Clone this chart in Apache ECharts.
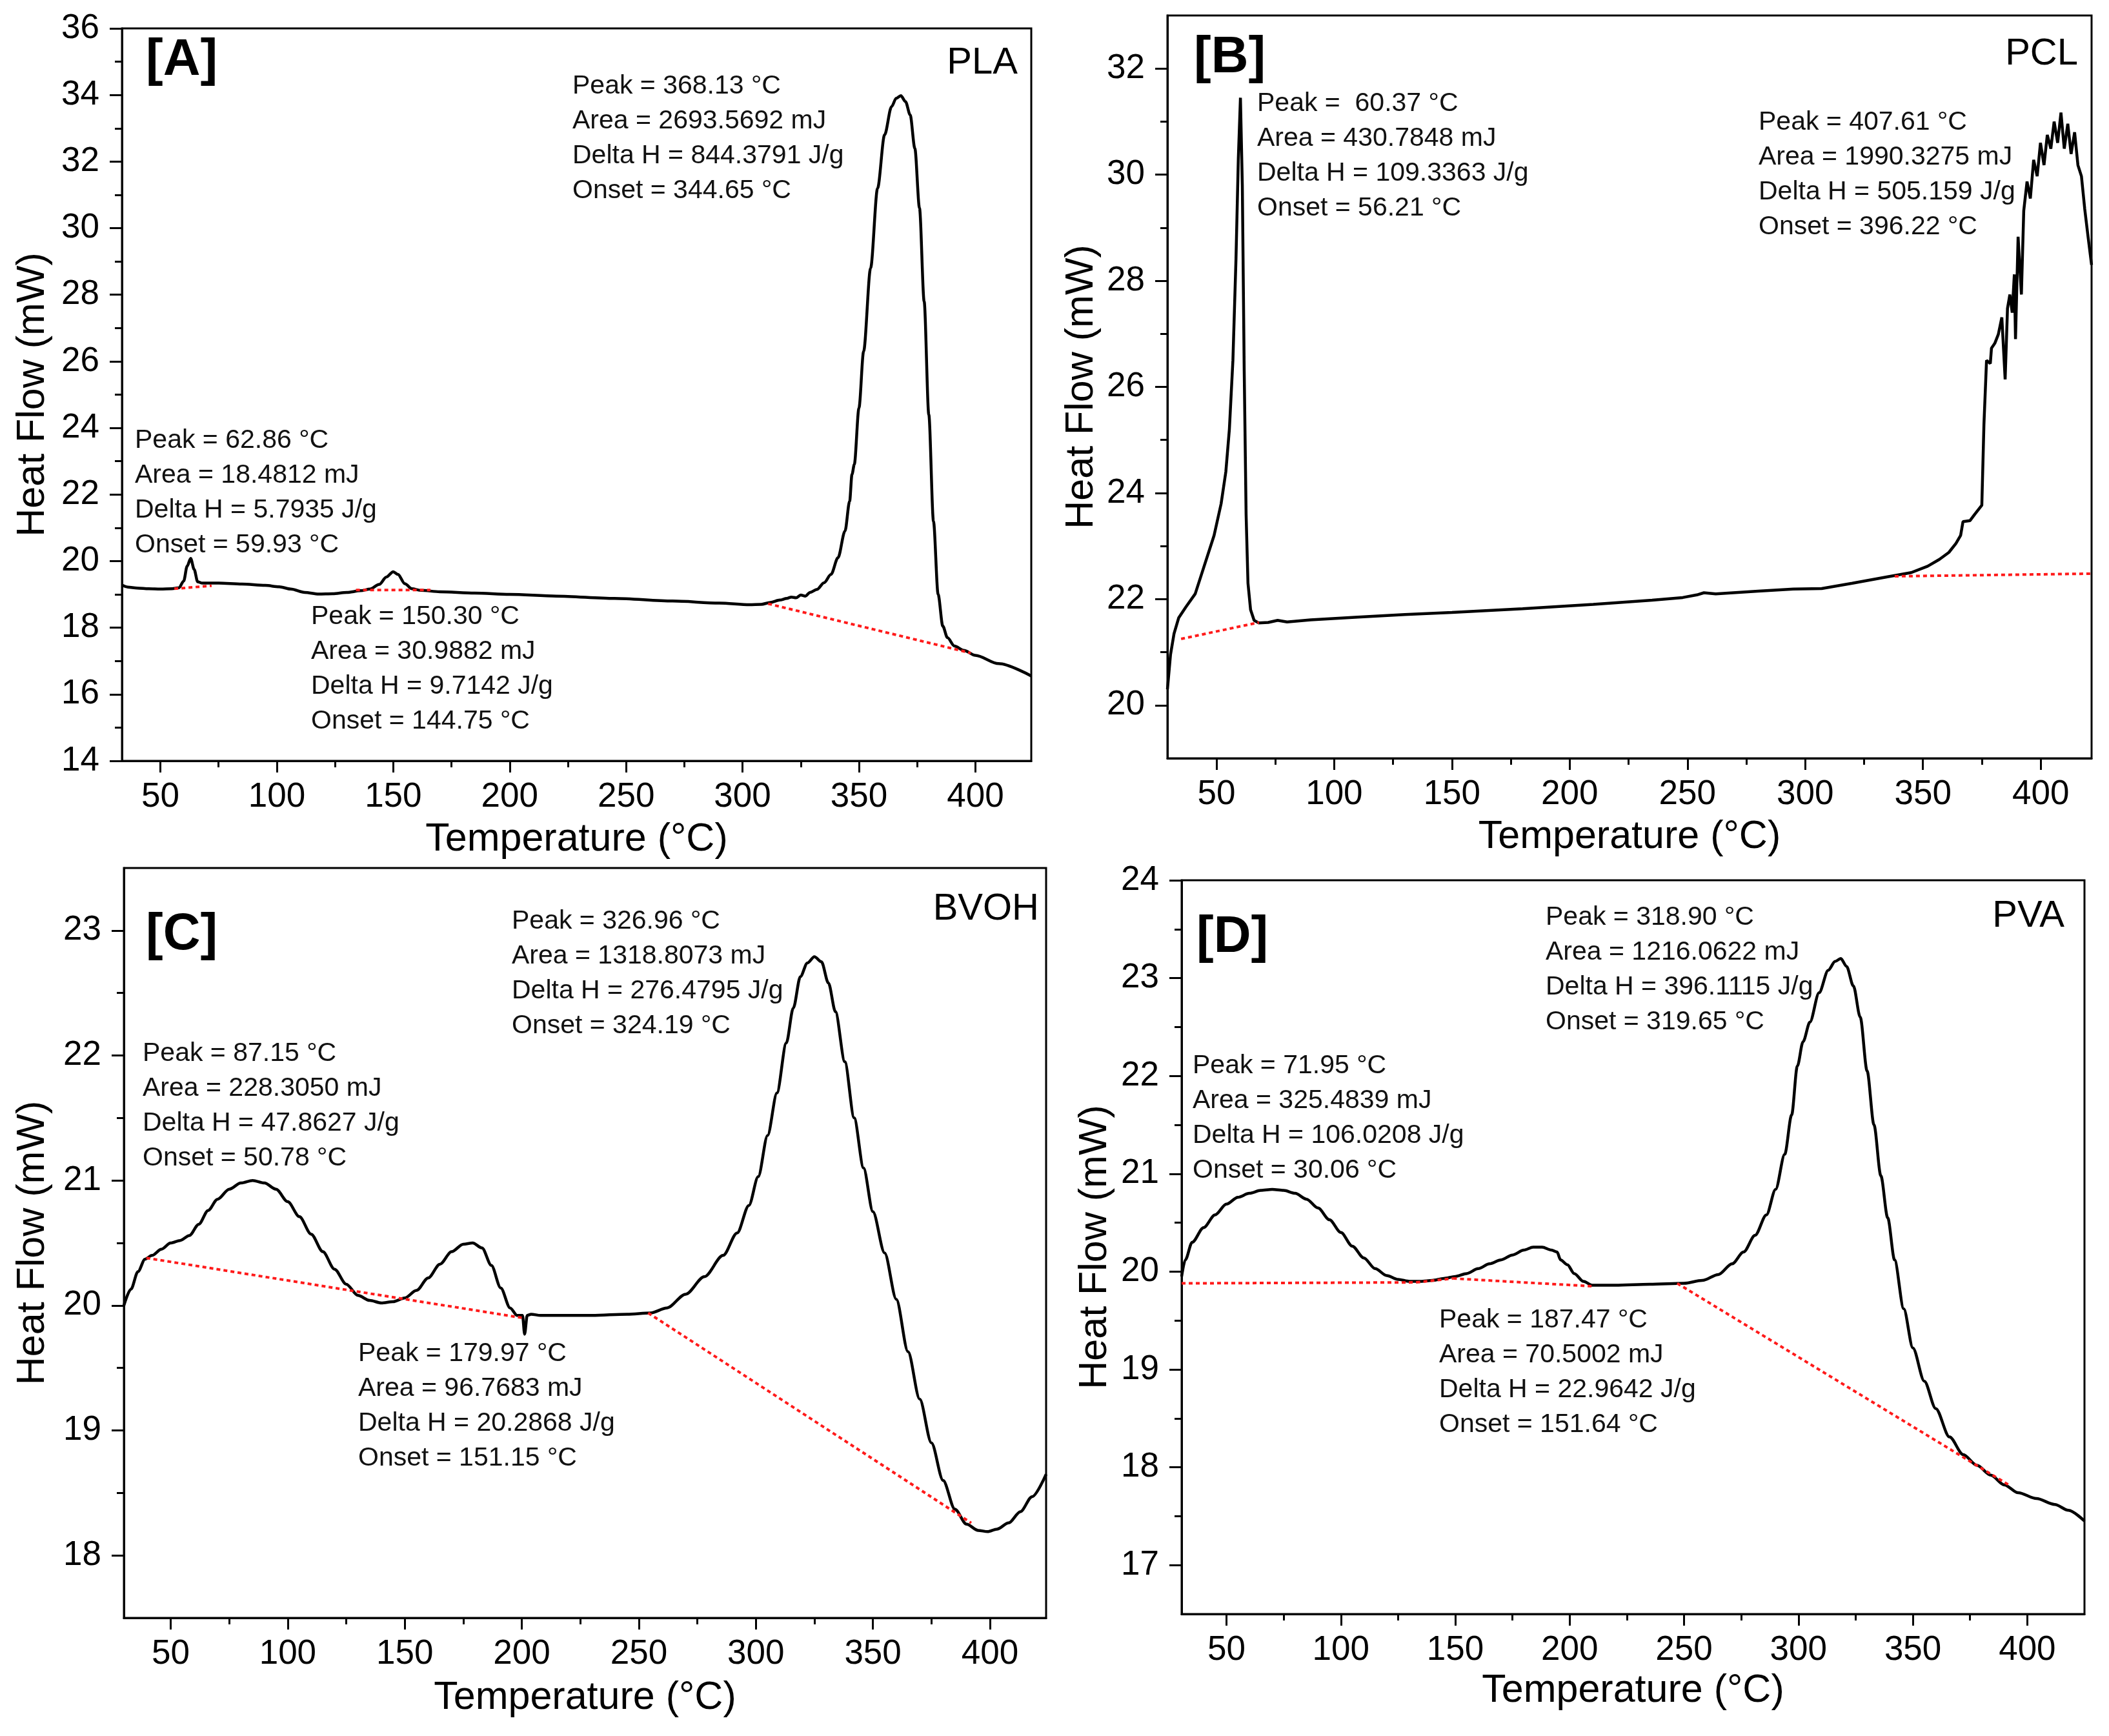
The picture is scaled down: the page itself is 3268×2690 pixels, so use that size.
<!DOCTYPE html>
<html>
<head>
<meta charset="utf-8">
<title>DSC thermograms</title>
<script src="https://cdn.jsdelivr.net/npm/echarts@6.0.0/dist/echarts.min.js"></script>
<style>
html, body { margin: 0; padding: 0; background: #fff; }
#main { width: 3268px; height: 2690px; }
</style>
</head>
<body>
<div id="main"></div>
<script>
/*
 * DSC curves - PLA / PCL / BVOH / PVA
 */

// tick values shared by all four panels
var xTicks = [50, 100, 150, 200, 250, 300, 350, 400];
var xMinor = [75, 125, 175, 225, 275, 325, 375];

// [A] PLA
var tempA = [33.5, 36, 40, 45, 50, 55, 58, 60, 61.5, 63, 64.5, 66, 68, 75, 85, 95, 101, 106, 112, 118, 124, 130, 136, 140, 144, 147, 150, 152, 155, 158, 162, 170, 185, 200, 220, 245, 270, 290, 303, 308, 312, 316, 319, 321, 323, 325, 327, 329, 332, 335, 338, 341, 344, 346, 347, 348, 350, 352, 355, 358, 361, 364, 366, 368, 370, 372, 374, 376, 378, 380, 382, 384, 386, 388, 391, 395, 400, 410, 424];
var flowA = [19.28, 19.22, 19.19, 19.17, 19.16, 19.17, 19.2, 19.4, 19.85, 20.08, 19.75, 19.38, 19.34, 19.34, 19.31, 19.27, 19.23, 19.16, 19.06, 19.01, 19.02, 19.06, 19.11, 19.16, 19.3, 19.52, 19.68, 19.6, 19.32, 19.17, 19.12, 19.08, 19.04, 19.0, 18.95, 18.88, 18.8, 18.74, 18.69, 18.7, 18.76, 18.83, 18.88, 18.92, 18.9, 18.98, 18.95, 19.06, 19.15, 19.35, 19.6, 20.1, 20.9, 21.8, 22.6, 22.9, 24.6, 26.3, 28.8, 31.2, 32.8, 33.65, 33.9, 33.98, 33.8, 33.4, 32.4, 30.6, 27.8, 24.4, 21.2, 19.0, 18.05, 17.7, 17.45, 17.32, 17.17, 16.92, 16.55];
var baseTempA = [[56, 72], [134, 166], [311, 398]];
var baseFlowA = [[19.17, 19.26], [19.13, 19.13], [18.72, 17.24]];
var yTicksA = [14, 16, 18, 20, 22, 24, 26, 28, 30, 32, 34, 36];
var yMinorA = [15, 17, 19, 21, 23, 25, 27, 29, 31, 33, 35];

// [B] PCL
var tempB = [29.2, 30.5, 32, 34, 37, 41, 45, 49, 52, 54, 55.5, 57, 58.3, 59.3, 60.2, 61, 61.8, 62.6, 63.4, 64.5, 66, 68, 72, 76, 80, 90, 110, 130, 150, 180, 210, 235, 248, 254, 257, 262, 280, 295, 307, 320, 335, 345, 352, 357, 361, 364, 366, 367, 370, 372, 375, 375.9, 377, 378.6, 379.1, 380.5, 382, 383.5, 384.9, 385.9, 386.9, 387.9, 388.8, 389.3, 390.4, 391.8, 392.8, 394.2, 395.6, 397, 398.5, 399.9, 401.4, 402.8, 404.3, 405.7, 407.2, 408.6, 410, 411.5, 412.9, 414.4, 415.8, 417.3, 418.7, 420.1, 421.6];
var flowB = [20.3, 20.95, 21.35, 21.65, 21.85, 22.1, 22.65, 23.2, 23.8, 24.4, 25.2, 26.5, 28.4, 30.3, 31.45, 29.8, 26.3, 23.6, 22.3, 21.8, 21.6, 21.55, 21.56, 21.6, 21.57, 21.61, 21.66, 21.71, 21.75, 21.82, 21.9, 21.98, 22.03, 22.08, 22.12, 22.1, 22.15, 22.19, 22.2, 22.3, 22.42, 22.5, 22.62, 22.75, 22.88, 23.05, 23.2, 23.46, 23.48, 23.6, 23.77, 25.3, 26.5, 26.44, 26.73, 26.82, 26.99, 27.31, 26.14, 27.48, 27.74, 27.4, 28.12, 26.9, 28.83, 27.74, 29.32, 29.87, 29.55, 30.28, 29.97, 30.6, 30.18, 30.75, 30.49, 31.0, 30.6, 31.17, 30.49, 30.96, 30.39, 30.8, 30.18, 29.97, 29.35, 28.83, 28.3];
var baseTempB = [[35, 68], [338, 421.6]];
var baseFlowB = [[21.25, 21.56], [22.43, 22.48]];
var yTicksB = [20, 22, 24, 26, 28, 30, 32];
var yMinorB = [21, 23, 25, 27, 29, 31];

// [C] BVOH
var tempC = [30, 33, 36, 39, 42, 46, 50, 54, 58, 62, 66, 70, 75, 80, 85, 90, 95, 100, 105, 110, 115, 120, 125, 130, 135, 140, 145, 150, 155, 160, 165, 170, 175, 179, 183, 187, 191, 195, 198, 200.3, 201.2, 202.3, 204, 208, 215, 230, 245, 255, 262, 270, 278, 286, 292, 297, 301, 305, 309, 313, 316, 319, 322, 325, 328, 331, 334, 338, 342, 346, 350, 355, 360, 365, 370, 375, 380, 385, 390, 395, 399, 403, 408, 413, 418, 424];
var flowC = [20.0, 20.13, 20.27, 20.37, 20.4, 20.45, 20.5, 20.52, 20.56, 20.65, 20.76, 20.85, 20.93, 20.98, 21.0, 20.98, 20.93, 20.83, 20.71, 20.57, 20.43, 20.29, 20.17, 20.08, 20.04, 20.02, 20.03, 20.06, 20.12, 20.22, 20.33, 20.43, 20.49, 20.5, 20.46, 20.32, 20.14, 19.98, 19.92, 19.92, 19.77, 19.92, 19.93, 19.92, 19.92, 19.92, 19.93, 19.94, 19.98, 20.09, 20.23, 20.4, 20.58, 20.8, 21.03, 21.36, 21.7, 22.1, 22.38, 22.63, 22.74, 22.79, 22.75, 22.58, 22.35, 21.95, 21.5, 21.1, 20.75, 20.42, 20.05, 19.63, 19.25, 18.9, 18.6, 18.37, 18.25, 18.2, 18.19, 18.21, 18.26, 18.35, 18.47, 18.65];
var baseTempC = [[39.6, 200.5], [254, 392]];
var baseFlowC = [[20.38, 19.9], [19.94, 18.26]];
var yTicksC = [18, 19, 20, 21, 22, 23];
var yMinorC = [18.5, 19.5, 20.5, 21.5, 22.5];

// [D] PVA
var tempD = [30.4, 32, 35, 40, 45, 50, 55, 60, 65, 70, 75, 80, 85, 90, 95, 100, 105, 110, 115, 120, 125, 130, 135, 140, 145, 150, 155, 160, 165, 170, 175, 180, 184, 188, 192, 194.5, 196, 199, 202, 206, 210, 220, 235, 250, 258, 265, 271, 276, 281, 286, 290, 294, 297, 299.5, 302, 305, 309, 313, 316, 318.5, 321, 324, 327, 330, 333, 336, 339, 342, 346, 350, 355, 360, 366, 372, 378, 384, 390, 396, 404, 412, 418, 425];
var flowD = [19.95, 20.12, 20.3, 20.45, 20.58, 20.69, 20.76, 20.8, 20.83, 20.84, 20.83, 20.8, 20.74, 20.65, 20.53, 20.4, 20.26, 20.14, 20.03, 19.96, 19.92, 19.9, 19.9, 19.91, 19.93, 19.95, 19.98, 20.03, 20.08, 20.12, 20.17, 20.22, 20.25, 20.25, 20.22, 20.2, 20.12, 20.07, 19.98, 19.9, 19.86, 19.86, 19.87, 19.88, 19.91, 19.97, 20.08, 20.2, 20.37, 20.58, 20.84, 21.2, 21.6, 22.1, 22.35, 22.55, 22.85, 23.08, 23.17, 23.2, 23.12, 22.92, 22.6, 22.05, 21.5, 20.98, 20.55, 20.12, 19.62, 19.22, 18.88, 18.6, 18.31, 18.13, 18.02, 17.92, 17.82, 17.74, 17.68, 17.62, 17.56, 17.45];
var baseTempD = [[30.4, 133], [133, 149], [149, 210], [247, 392.6]];
var baseFlowD = [[19.88, 19.89], [19.89, 19.93], [19.93, 19.85], [19.88, 17.81]];
var yTicksD = [17, 18, 19, 20, 21, 22, 23, 24];
var yMinorD = [17.5, 18.5, 19.5, 20.5, 21.5, 22.5, 23.5];

// annotation texts
var notesA = [
    ['Peak = 368.13 °C', 'Area = 2693.5692 mJ', 'Delta H = 844.3791 J/g', 'Onset = 344.65 °C'],
    ['Peak = 62.86 °C', 'Area = 18.4812 mJ', 'Delta H = 5.7935 J/g', 'Onset = 59.93 °C'],
    ['Peak = 150.30 °C', 'Area = 30.9882 mJ', 'Delta H = 9.7142 J/g', 'Onset = 144.75 °C']
];
var notesB = [
    ['Peak =  60.37 °C', 'Area = 430.7848 mJ', 'Delta H = 109.3363 J/g', 'Onset = 56.21 °C'],
    ['Peak = 407.61 °C', 'Area = 1990.3275 mJ', 'Delta H = 505.159 J/g', 'Onset = 396.22 °C']
];
var notesC = [
    ['Peak = 326.96 °C', 'Area = 1318.8073 mJ', 'Delta H = 276.4795 J/g', 'Onset = 324.19 °C'],
    ['Peak = 87.15 °C', 'Area = 228.3050 mJ', 'Delta H = 47.8627 J/g', 'Onset = 50.78 °C'],
    ['Peak = 179.97 °C', 'Area = 96.7683 mJ', 'Delta H = 20.2868 J/g', 'Onset = 151.15 °C']
];
var notesD = [
    ['Peak = 318.90 °C', 'Area = 1216.0622 mJ', 'Delta H = 396.1115 J/g', 'Onset = 319.65 °C'],
    ['Peak = 71.95 °C', 'Area = 325.4839 mJ', 'Delta H = 106.0208 J/g', 'Onset = 30.06 °C'],
    ['Peak = 187.47 °C', 'Area = 70.5002 mJ', 'Delta H = 22.9642 J/g', 'Onset = 151.64 °C']
];

var FONT = '"Liberation Sans", Arial, Helvetica, sans-serif';

var panels = [
    { tag: '[A]', name: 'PLA', grid: [189, 44, 1409, 1135], x: [33.5, 424], y: [14, 36],
      yTicks: yTicksA, yMinor: yMinorA, temp: tempA, flow: flowA, baseT: baseTempA, baseF: baseFlowA,
      smooth: 0.3, xGap: 92, yGap: 107, tagPos: [226, 94], namePos: [1577, 98],
      notes: notesA, notePos: [[887, 134], [209, 683], [482, 956]] },
    { tag: '[B]', name: 'PCL', grid: [1809, 24, 1432, 1151], x: [29.2, 421.6], y: [19, 33],
      yTicks: yTicksB, yMinor: yMinorB, temp: tempB, flow: flowB, baseT: baseTempB, baseF: baseFlowB,
      smooth: 0, xGap: 92, yGap: 102, tagPos: [1850, 90], namePos: [3220, 84],
      notes: notesB, notePos: [[1948, 161], [2725, 190]] },
    { tag: '[C]', name: 'BVOH', grid: [192, 1345, 1429, 1162], x: [30, 424], y: [17.5, 23.5],
      yTicks: yTicksC, yMinor: yMinorC, temp: tempC, flow: flowC, baseT: baseTempC, baseF: baseFlowC,
      smooth: 0.3, xGap: 94, yGap: 110, tagPos: [226, 1449], namePos: [1610, 1409],
      notes: notesC, notePos: [[793, 1428], [221, 1633], [555, 2098]] },
    { tag: '[D]', name: 'PVA', grid: [1831, 1364, 1399, 1137], x: [30.4, 425], y: [16.5, 24],
      yTicks: yTicksD, yMinor: yMinorD, temp: tempD, flow: flowD, baseT: baseTempD, baseF: baseFlowD,
      smooth: 0.3, xGap: 89, yGap: 103, tagPos: [1854, 1453], namePos: [3199, 1420],
      notes: notesD, notePos: [[2395, 1422], [1848, 1652], [2230, 2046]] }
];

function zip(xs, ys) {
    var out = [];
    for (var i = 0; i < xs.length; i++) {
        out.push([xs[i], ys[i]]);
    }
    return out;
}

var grids = [], xAxes = [], yAxes = [], series = [], texts = [];

panels.forEach(function (p, i) {
    grids.push({
        left: p.grid[0], top: p.grid[1], width: p.grid[2], height: p.grid[3],
        show: true, borderColor: '#000', borderWidth: 3, backgroundColor: 'transparent',
        containLabel: false, outerBoundsMode: 'none'
    });

    // major x axis with labels
    xAxes.push({
        type: 'value', gridIndex: i, position: 'bottom', min: p.x[0], max: p.x[1],
        axisLine: { show: true, onZero: false, lineStyle: { color: '#000', width: 3 } },
        axisTick: { show: true, inside: false, length: 18, customValues: xTicks, lineStyle: { color: '#000', width: 3 } },
        axisLabel: { show: true, customValues: xTicks, margin: 30, fontSize: 53, color: '#000', fontFamily: FONT },
        splitLine: { show: false },
        name: 'Temperature (°C)', nameLocation: 'middle', nameGap: p.xGap,
        nameTextStyle: { fontSize: 61, color: '#000', fontFamily: FONT }
    });
    // minor x ticks
    xAxes.push({
        type: 'value', gridIndex: i, position: 'bottom', min: p.x[0], max: p.x[1],
        axisLine: { show: false, onZero: false },
        axisTick: { show: true, inside: false, length: 10, customValues: xMinor, lineStyle: { color: '#000', width: 3 } },
        axisLabel: { show: false },
        splitLine: { show: false }
    });

    yAxes.push({
        type: 'value', gridIndex: i, position: 'left', min: p.y[0], max: p.y[1],
        axisLine: { show: true, onZero: false, lineStyle: { color: '#000', width: 3 } },
        axisTick: { show: true, inside: false, length: 19, customValues: p.yTicks, lineStyle: { color: '#000', width: 3 } },
        axisLabel: { show: true, customValues: p.yTicks, margin: 35, fontSize: 53, color: '#000', fontFamily: FONT },
        splitLine: { show: false },
        name: 'Heat Flow (mW)', nameLocation: 'middle', nameGap: p.yGap,
        nameTextStyle: { fontSize: 61, color: '#000', fontFamily: FONT }
    });
    yAxes.push({
        type: 'value', gridIndex: i, position: 'left', min: p.y[0], max: p.y[1],
        axisLine: { show: false, onZero: false },
        axisTick: { show: true, inside: false, length: 11, customValues: p.yMinor, lineStyle: { color: '#000', width: 3 } },
        axisLabel: { show: false },
        splitLine: { show: false }
    });

    series.push({
        type: 'line', xAxisIndex: i * 2, yAxisIndex: i * 2,
        data: zip(p.temp, p.flow), smooth: p.smooth, smoothMonotone: 'x',
        showSymbol: false, symbol: 'none', clip: true, z: 3,
        lineStyle: { color: '#000', width: 4.5 }
    });

    // red dotted baselines
    p.baseT.forEach(function (t, k) {
        series.push({
            type: 'line', xAxisIndex: i * 2, yAxisIndex: i * 2,
            data: zip(t, p.baseF[k]), showSymbol: false, symbol: 'none', z: 4,
            lineStyle: { color: '#ff1a1a', width: 4, type: [6, 5] }
        });
    });

    texts.push({
        type: 'text', x: p.tagPos[0], y: p.tagPos[1],
        style: { text: p.tag, font: 'bold 80px ' + FONT, fill: '#000', align: 'left', verticalAlign: 'middle' }
    });
    texts.push({
        type: 'text', x: p.namePos[0], y: p.namePos[1],
        style: { text: p.name, font: '58px ' + FONT, fill: '#000', align: 'right', verticalAlign: 'middle' }
    });

    p.notes.forEach(function (block, k) {
        block.forEach(function (line, j) {
            texts.push({
                type: 'text', x: p.notePos[k][0], y: p.notePos[k][1] + j * 54,
                style: { text: line, font: '41px ' + FONT, fill: '#111', align: 'left', verticalAlign: 'middle' }
            });
        });
    });
});

var chart = echarts.init(document.getElementById('main'), null, { renderer: 'canvas' });
chart.setOption({
    backgroundColor: '#fff',
    animation: false,
    grid: grids,
    xAxis: xAxes,
    yAxis: yAxes,
    series: series,
    graphic: texts
});
</script>
</body>
</html>
